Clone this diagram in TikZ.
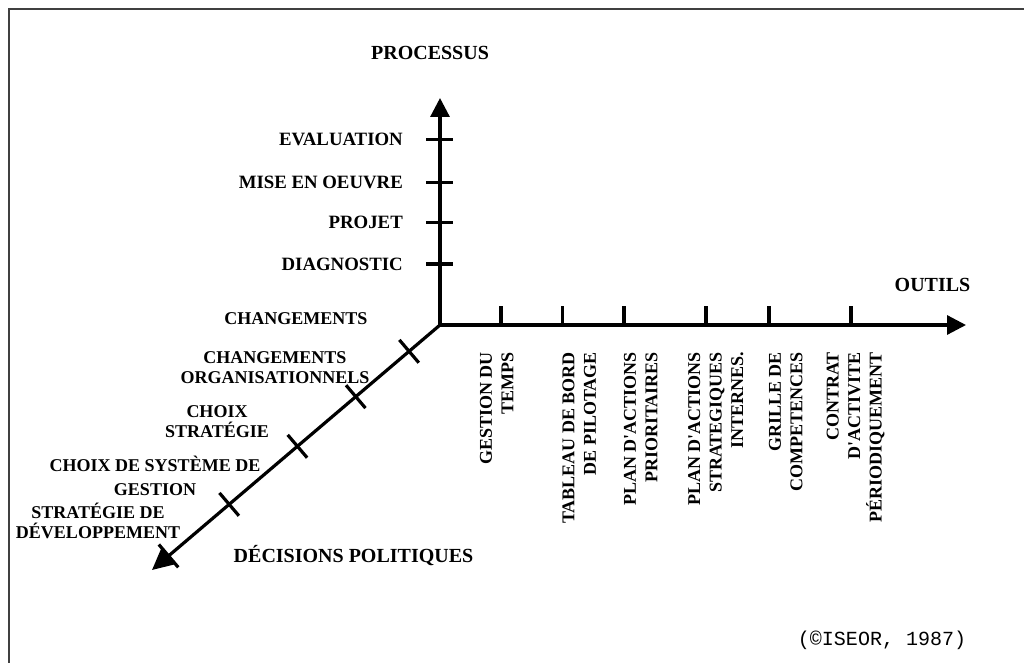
\documentclass[tikz,border=0pt]{standalone}
\usepackage{fontspec}
\setmainfont{Liberation Serif}
\setmonofont{Liberation Mono}
\usetikzlibrary{arrows.meta,calc}

\newcommand{\apos}{\textquotesingle}

\begin{document}
\begin{tikzpicture}[x=1pt,y=-1pt,
  axisline/.style={line width=3.2pt, line cap=round},
  axis/.style={axisline, -{Triangle[length=19pt,width=19pt]}},
  tickmark/.style={line width=3.2pt},
  lbl/.style={font=\fontsize{18}{20}\selectfont\bfseries, inner sep=0pt},
  steplbl/.style={font=\fontsize{18.8}{20}\selectfont\bfseries, inner sep=0pt, anchor=east},
  biglbl/.style={font=\fontsize{20}{22}\selectfont\bfseries, inner sep=0pt},
  vlbl/.style={font=\fontsize{18}{21.5}\selectfont\bfseries, inner sep=0pt,
               rotate=90, anchor=east, align=right},
  dlbl/.style={lbl, align=center},
]
\useasboundingbox (0,0) rectangle (1024,663);
\fill[white] (0,0) rectangle (1024,663);

% frame
\draw[line width=2.5pt, black!75] (9,663) -- (9,9) -- (1024,9);

% axes
\coordinate (O) at (440,325);
\coordinate (P) at (440,98);
\coordinate (T) at (966,325);
\coordinate (D) at (152,570);

\draw[axis] (O) -- (P);
\draw[axis] (O) -- (T);
\draw[axisline, -{Triangle[length=22pt,width=21pt]}] (O) -- (D);

% ticks on the process axis
\foreach \y [count=\i] in {139.5,182.5,222.5,264} {
  \coordinate (v\i) at (440,\y);
  \draw[tickmark] ($(v\i)+(-14,0)$) -- ($(v\i)+(13,0)$);
}

% ticks on the tools axis
\foreach \x [count=\i] in {501,562.5,624,706,769,851} {
  \coordinate (h\i) at (\x,325);
  \draw[tickmark] (h\i) -- ($(h\i)+(0,-19)$);
}

% ticks on the decisions axis
\foreach \d [count=\i] in {40.6,110.6,187.2,276.8,356.4} {
  \coordinate (d\i) at ($(O)!\d pt!(D)$);
  \draw[tickmark] ($(d\i)!15pt!90:(D)$) -- ($(d\i)!15pt!-90:(D)$);
}

% axis titles
\node[biglbl] (processus) at (430,53) {PROCESSUS};
\node[biglbl] (outils) at (932.5,285) {OUTILS};
\node[biglbl] (decisions) at (353.5,556) {DÉCISIONS POLITIQUES};

% process steps
\node[steplbl] (evaluation) at (403,139.5) {EVALUATION};
\node[steplbl] (miseoeuvre) at (403,182.5) {MISE EN OEUVRE};
\node[steplbl] (projet) at (403,222.5) {PROJET};
\node[steplbl] (diagnostic) at (403,264) {DIAGNOSTIC};

% decision levels
\node[lbl] (changements) at (296,319) {CHANGEMENTS};
\node[dlbl] (changorg) at (275,368) {CHANGEMENTS\\ORGANISATIONNELS};
\node[dlbl] (choixstrat) at (217,422) {CHOIX\\STRATÉGIE};
\node[dlbl] (choixsys) at (155,476) {CHOIX DE SYSTÈME DE\\[4pt]GESTION};
\node[dlbl] (stratdev) at (98,521) {STRATÉGIE DE\\DÉVELOPPEMENT};

% tools
\node[vlbl] (gestion) at (496.8,352) {GESTION DU\\TEMPS};
\node[vlbl] (tableau) at (579.2,352) {TABLEAU DE BORD\\DE PILOTAGE};
\node[vlbl] (planprio) at (640.8,352) {PLAN D\apos ACTIONS\\PRIORITAIRES};
\node[vlbl] (planstrat) at (715.8,352) {PLAN D\apos ACTIONS\\STRATEGIQUES\\INTERNES.};
\node[vlbl] (grille) at (785.8,352) {GRILLE DE\\COMPETENCES};
\node[vlbl] (contrat) at (855.5,352) {CONTRAT\\D\apos ACTIVITE\\PÉRIODIQUEMENT};

% source
\node[font=\ttfamily\fontsize{20}{22}\selectfont, inner sep=0pt] (source) at (882,640) {(©ISEOR, 1987)};
\end{tikzpicture}
\end{document}
